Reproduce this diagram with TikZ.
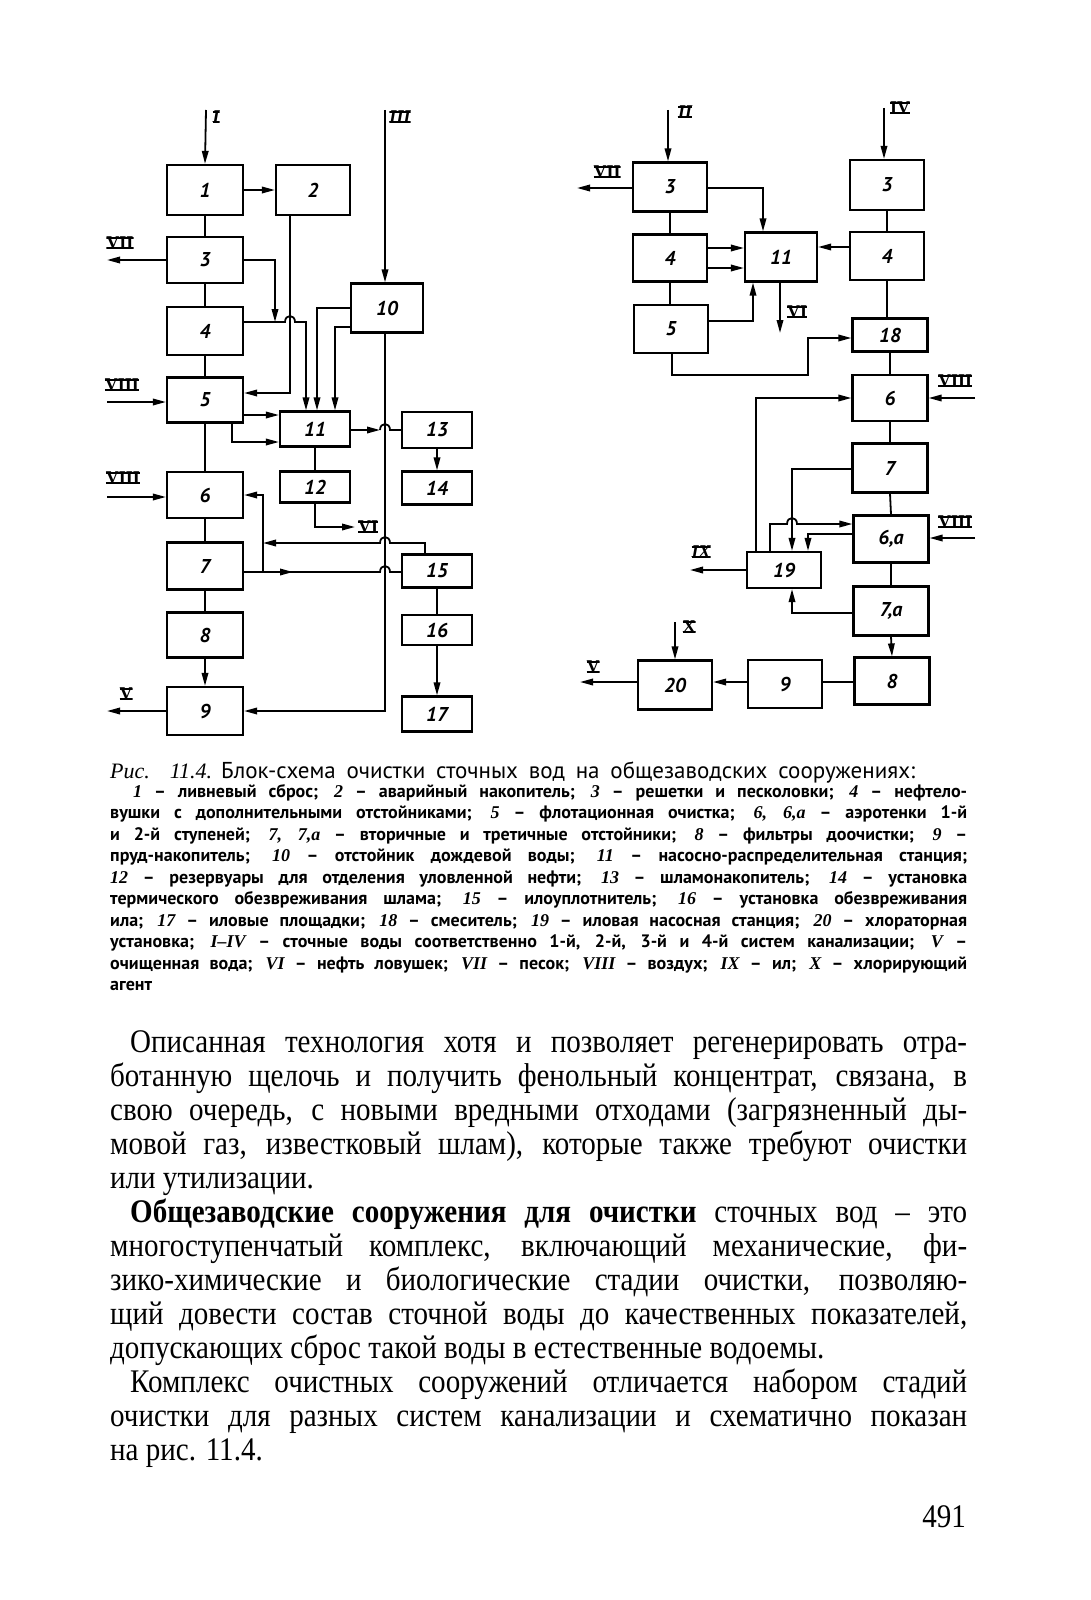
\documentclass[tikz,border=0pt]{standalone}
\usepackage{fontspec}
\usetikzlibrary{arrows.meta,calc}
\setmainfont{Liberation Serif}
\newfontfamily\bodyfont[FakeStretch=0.88]{Liberation Serif}
\newfontfamily\legfont{PT Sans}
\newfontfamily\itser{Liberation Serif}
\newfontfamily\boxfam{PT Sans}
\newfontfamily\romfam{Liberation Serif}
\newcommand\jline[2]{\makebox[#1][s]{#2}}
\newcommand\nn[1]{{\itser\itshape #1}}
\newcommand\legsz{\legfont\bfseries\fontsize{18}{20}\selectfont}
\newcommand\bodysz{\bodyfont\fontsize{33}{34}\selectfont}
\tikzset{
  box/.style={draw, line width=2.2pt, inner sep=0pt, font=\boxfam\bfseries\itshape\fontsize{20}{20}\selectfont},
  ln/.style={line width=1.8pt},
  arr/.style={line width=1.8pt, -{Triangle[length=13pt,width=6.5pt]}},
  bars/.style={path picture={
      \draw[line width=1.6pt] ([yshift=-0.8pt]path picture bounding box.north west) -- ([yshift=-0.8pt]path picture bounding box.north east);
      \draw[line width=1.6pt] ([yshift=0.8pt]path picture bounding box.south west) -- ([yshift=0.8pt]path picture bounding box.south east);}},
  rom/.style={inner sep=0pt, bars, font=\romfam\bfseries\fontsize{18}{18}\selectfont},
  romi/.style={inner sep=0pt, bars, font=\romfam\bfseries\itshape\fontsize{18}{18}\selectfont},
  txt/.style={anchor=base west, inner sep=0pt},
}
\begin{document}
\begin{tikzpicture}[x=1pt,y=-1pt]
\fill[white] (0,0) rectangle (1090,1600);
\useasboundingbox (0,0) rectangle (1090,1600);

% ---------------- left scheme ----------------
\node[box,minimum width=76pt,minimum height=50pt] (L1) at (205,190) {1};
\node[box,minimum width=74pt,minimum height=50pt] (L2) at (313,190) {2};
\node[box,minimum width=76pt,minimum height=46pt] (L3) at (205,260) {3};
\node[box,minimum width=76pt,minimum height=48pt] (L4) at (205,331) {4};
\node[box,minimum width=76pt,minimum height=45pt] (L5) at (205,400) {5};
\node[box,minimum width=76pt,minimum height=46pt] (L6) at (205,495) {6};
\node[box,minimum width=76pt,minimum height=47pt] (L7) at (205,566) {7};
\node[box,minimum width=76pt,minimum height=45pt] (L8) at (205,635) {8};
\node[box,minimum width=76pt,minimum height=48pt] (L9) at (205,711) {9};
\node[box,minimum width=72pt,minimum height=49pt] (L10) at (387,308) {10};
\node[box,minimum width=70pt,minimum height=35pt] (L11) at (315,429) {11};
\node[box,minimum width=70pt,minimum height=31pt] (L12) at (315,487) {12};
\node[box,minimum width=70pt,minimum height=36pt] (L13) at (437,430) {13};
\node[box,minimum width=70pt,minimum height=33pt] (L14) at (437,488) {14};
\node[box,minimum width=70pt,minimum height=33pt] (L15) at (437,571) {15};
\node[box,minimum width=70pt,minimum height=30pt] (L16) at (437,630) {16};
\node[box,minimum width=70pt,minimum height=35pt] (L17) at (437,714) {17};

\coordinate (inI) at (206,110);
\coordinate (outVIIa) at (107,260);
\coordinate (inVIIIa) at (107,402);
\coordinate (inVIIIb) at (107,497);
\coordinate (outVa) at (107,711);
\coordinate (inIII) at (385,110);
\coordinate (outVIa) at (355,527);
\coordinate (j1) at (275,322);
\coordinate (c4) at (306,322);
\coordinate (bA) at (290,322);
\coordinate (c2) at (290,393);
\coordinate (c10a) at (317,308);
\coordinate (c10b) at (335,327);
\coordinate (c9) at (385,711);
\coordinate (c5a) at (0,415);
\coordinate (c5b) at (232,442);
\coordinate (b1) at (385,430);
\coordinate (c15) at (425,543);
\coordinate (b2) at (385,543);
\coordinate (j2) at (263,543);
\coordinate (j3) at (263,572);
\coordinate (m3) at (293,572);
\coordinate (b3) at (385,572);

\draw[arr] (inI) -- (L1.north);
\draw[arr] (L1.east) -- (L2.west);
\draw[ln] (L1.south) -- (L3.north);
\draw[ln] (L3.south) -- (L4.north);
\draw[ln] (L4.south) -- (L5.north);
\draw[ln] (L5.south) -- (L6.north);
\draw[ln] (L6.south) -- (L7.north);
\draw[ln] (L7.south) -- (L8.north);
\draw[arr] (L8.south) -- (L9.north);
\draw[arr] (L3.west) -- (outVIIa);
\draw[arr] (inVIIIa) -- (L5.west |- inVIIIa);
\draw[arr] (inVIIIb) -- (L6.west |- inVIIIb);
\draw[arr] (L9.west) -- (outVa);
\draw[arr] (L3.east) -| (j1);
\draw[arr] (L4.east |- j1) -- ([xshift=-5pt]bA) .. controls ([xshift=-5pt,yshift=8pt]bA) and ([xshift=5pt,yshift=8pt]bA) .. ([xshift=5pt]bA) -- (c4) -- (L11.north -| c4);
\draw[arr] (L2.south -| c2) |- (L5.east |- c2);
\draw[arr] (inIII) -- (L10.north -| inIII);
\draw[arr] (L10.west |- c10a) -| (L11.north -| c10a);
\draw[arr] (L10.west |- c10b) -| (L11.north -| c10b);
\draw[arr] (L10.south -| c9) -- (c9) -- (L9.east |- c9);
\draw[arr] (L5.east |- c5a) -- (L11.west |- c5a);
\draw[arr] (L5.south -| c5b) |- (L11.west |- c5b);
\draw[arr] (L11.east |- b1) -- ([xshift=-5pt]b1);
\draw[ln] ([xshift=-5pt]b1) .. controls ([xshift=-5pt,yshift=8pt]b1) and ([xshift=5pt,yshift=8pt]b1) .. ([xshift=5pt]b1) -- (L13.west |- b1);
\draw[ln] (L11.south) -- (L12.north);
\draw[arr] (L12.south) |- (outVIa);
\draw[arr] (L13.south) -- (L14.north);
\draw[ln] (L15.south) -- (L16.north);
\draw[arr] (L16.south) -- (L17.north);
\draw[arr] (L15.north -| c15) -- (c15) -- ([xshift=5pt]b2) .. controls ([xshift=5pt,yshift=8pt]b2) and ([xshift=-5pt,yshift=8pt]b2) .. ([xshift=-5pt]b2) -- (j2);
\draw[ln] (L7.east |- j3) -- ([xshift=-5pt]b3) .. controls ([xshift=-5pt,yshift=8pt]b3) and ([xshift=5pt,yshift=8pt]b3) .. ([xshift=5pt]b3) -- (L15.west |- b3);
\draw[arr] (L7.east |- j3) -- (m3);
\draw[arr] (j3) |- (L6.east);

\node[romi] (lI) at (216,117) {I};
\node[romi] (lIII) at (400,117) {III};
\node[rom] (lVIIa) at (120,243) {VII};
\node[rom] (lVIIIa) at (122,385) {VIII};
\node[rom] (lVIIIb) at (123,478) {VIII};
\node[rom] (lVa) at (126,694) {V};
\node[rom, anchor=west] (lVIa) at (358,527) {VI};

% ---------------- right scheme ----------------
\node[box,minimum width=74pt,minimum height=49pt] (R3) at (670,187) {3};
\node[box,minimum width=74pt,minimum height=47pt] (R4) at (670,258) {4};
\node[box,minimum width=74pt,minimum height=48pt] (R5) at (671,329) {5};
\node[box,minimum width=72pt,minimum height=49pt] (R11) at (781,257) {11};
\node[box,minimum width=74pt,minimum height=50pt] (R3b) at (887,185) {3};
\node[box,minimum width=74pt,minimum height=48pt] (R4b) at (887,256) {4};
\node[box,minimum width=75pt,minimum height=33pt] (R18) at (890,335) {18};
\node[box,minimum width=75pt,minimum height=46pt] (R6) at (890,398) {6};
\node[box,minimum width=75pt,minimum height=49pt] (R7) at (890,468) {7};
\node[box,minimum width=75pt,minimum height=47pt] (R6a) at (891,539) {6,a};
\node[box,minimum width=75pt,minimum height=49pt] (R7a) at (891,611) {7,a};
\node[box,minimum width=75pt,minimum height=47pt] (R8) at (892,681) {8};
\node[box,minimum width=74pt,minimum height=48pt] (R9) at (785,684) {9};
\node[box,minimum width=74pt,minimum height=49pt] (R20) at (675,685) {20};
\node[box,minimum width=74pt,minimum height=36pt] (R19) at (784,570) {19};

\coordinate (inII) at (668,110);
\coordinate (outVIIb) at (577,188);
\coordinate (c3r) at (763,188);
\coordinate (c4a) at (0,248);
\coordinate (c4b) at (0,268);
\coordinate (c5r) at (753,321);
\coordinate (outVIb) at (780,333);
\coordinate (inIV) at (884,108);
\coordinate (c4r) at (0,247);
\coordinate (c5d) at (672,375);
\coordinate (c5e) at (808,338);
\coordinate (inVIIIc) at (975,398);
\coordinate (inVIIId) at (975,538);
\coordinate (c19a) at (756,398);
\coordinate (c7) at (792,469);
\coordinate (c19b) at (770,524);
\coordinate (b4) at (792,524);
\coordinate (c6a) at (808,534);
\coordinate (c7a) at (792,613);
\coordinate (outIX) at (690,570);
\coordinate (c89) at (0,682);
\coordinate (outVb) at (580,682);
\coordinate (inX) at (675,622);

\draw[arr] (inII) -- (R3.north -| inII);
\draw[arr] (R3.west |- outVIIb) -- (outVIIb);
\draw[arr] (R3.east |- c3r) -| (R11.north -| c3r);
\draw[ln] (R3.south) -- (R4.north);
\draw[ln] (R4.south) -- (R5.north -| R4.south);
\draw[arr] (R4.east |- c4a) -- (R11.west |- c4a);
\draw[arr] (R4.east |- c4b) -- (R11.west |- c4b);
\draw[arr] (R5.east |- c5r) -| (R11.south -| c5r);
\draw[arr] (R11.south -| outVIb) -- (outVIb);
\draw[arr] (inIV) -- (R3b.north -| inIV);
\draw[ln] (R3b.south) -- (R4b.north);
\draw[ln] (R4b.south) -- (R18.north -| R4b.south);
\draw[arr] (R4b.west |- c4r) -- (R11.east |- c4r);
\draw[arr] (R5.south -| c5d) -- (c5d) -| (c5e) -- (R18.west |- c5e);
\draw[ln] (R18.south) -- (R6.north);
\draw[ln] (R6.south) -- (R7.north);
\draw[ln] (R7.south) -- (R6a.north);
\draw[ln] (R6a.south) -- (R7a.north);
\draw[arr] (R7a.south) -- (R8.north);
\draw[arr] (inVIIIc) -- (R6.east |- inVIIIc);
\draw[arr] (inVIIId) -- (R6a.east |- inVIIId);
\draw[arr] (R19.north -| c19a) |- (R6.west);
\draw[arr] (R7.west |- c7) -| (R19.north -| c7);
\draw[arr] (R19.north -| c19b) |- ([xshift=-5pt]b4) .. controls ([xshift=-5pt,yshift=8pt]b4) and ([xshift=5pt,yshift=8pt]b4) .. ([xshift=5pt]b4) -- (R6a.west |- b4);
\draw[arr] (R6a.west |- c6a) -| (R19.north -| c6a);
\draw[arr] (R7a.west |- c7a) -| (R19.south -| c7a);
\draw[arr] (R19.west) -- (outIX);
\draw[ln] (R8.west |- c89) -- (R9.east |- c89);
\draw[arr] (R9.west |- c89) -- (R20.east |- c89);
\draw[arr] (R20.west |- outVb) -- (outVb);
\draw[arr] (inX) -- (R20.north);

\node[romi] (lII) at (685,112) {II};
\node[rom] (lVIIb) at (607,172) {VII};
\node[rom] (lVIb) at (797,312) {VI};
\node[rom] (lIV) at (900,108) {IV};
\node[rom] (lVIIIc) at (955,381) {VIII};
\node[rom] (lVIIId) at (955,522) {VIII};
\node[romi] (lIX) at (701,552) {IX};
\node[rom] (lX) at (689,627) {X};
\node[rom] (lVb) at (593,667) {V};

% ---------------- caption ----------------
\node[txt] (cap) at (110,778) {\jline{805pt}{{\itser\itshape\fontsize{22}{22}\selectfont Рис. 11.4.} {\legfont\fontsize{23}{23}\selectfont Блок-схема очистки сточных вод на общезаводских сооружениях:}}};
\node[txt] (g1) at (133,797) {\legsz\jline{834pt}{\nn{1} – ливневый сброс; \nn{2} – аварийный накопитель; \nn{3} – решетки и песколовки; \nn{4} – нефтело-}};
\node[txt] (g2) at (110,818.5) {\legsz\jline{857pt}{вушки с дополнительными отстойниками; \nn{5} – флотационная очистка; \nn{6, 6,а} – аэротенки 1-й}};
\node[txt] (g3) at (110,840) {\legsz\jline{857pt}{и 2-й ступеней; \nn{7, 7,а} – вторичные и третичные отстойники; \nn{8} – фильтры доочистки; \nn{9} –}};
\node[txt] (g4) at (110,861.5) {\legsz\jline{857pt}{пруд-накопитель; \nn{10} – отстойник дождевой воды; \nn{11} – насосно-распределительная станция;}};
\node[txt] (g5) at (110,883) {\legsz\jline{857pt}{\nn{12} – резервуары для отделения уловленной нефти; \nn{13} – шламонакопитель; \nn{14} – установка}};
\node[txt] (g6) at (110,904.5) {\legsz\jline{857pt}{термического обезвреживания шлама; \nn{15} – илоуплотнитель; \nn{16} – установка обезвреживания}};
\node[txt] (g7) at (110,926) {\legsz\jline{857pt}{ила; \nn{17} – иловые площадки; \nn{18} – смеситель; \nn{19} – иловая насосная станция; \nn{20} – хлораторная}};
\node[txt] (g8) at (110,947.5) {\legsz\jline{857pt}{установка; \nn{I–IV} – сточные воды соответственно 1-й, 2-й, 3-й и 4-й систем канализации; \nn{V} –}};
\node[txt] (g9) at (110,969) {\legsz\jline{857pt}{очищенная вода; \nn{VI} – нефть ловушек; \nn{VII} – песок; \nn{VIII} – воздух; \nn{IX} – ил; \nn{X} – хлорирующий}};
\node[txt] (g10) at (110,990.5) {\legsz агент};

% ---------------- body text ----------------
\node[txt] (t1) at (130,1052) {\bodysz\jline{837pt}{Описанная технология хотя и позволяет регенерировать отра-}};
\node[txt] (t2) at (110,1086) {\bodysz\jline{857pt}{ботанную щелочь и получить фенольный концентрат, связана, в}};
\node[txt] (t3) at (110,1120) {\bodysz\jline{857pt}{свою очередь, с новыми вредными отходами (загрязненный ды-}};
\node[txt] (t4) at (110,1154) {\bodysz\jline{857pt}{мовой газ, известковый шлам), которые также требуют очистки}};
\node[txt] (t5) at (110,1188) {\bodysz или утилизации.};
\node[txt] (t6) at (130,1222) {\bodysz\jline{837pt}{{\bfseries Общезаводские сооружения для очистки} сточных вод – это}};
\node[txt] (t7) at (110,1256) {\bodysz\jline{857pt}{многоступенчатый комплекс, включающий механические, фи-}};
\node[txt] (t8) at (110,1290) {\bodysz\jline{857pt}{зико-химические и биологические стадии очистки, позволяю-}};
\node[txt] (t9) at (110,1324) {\bodysz\jline{857pt}{щий довести состав сточной воды до качественных показателей,}};
\node[txt] (t10) at (110,1358) {\bodysz допускающих сброс такой воды в естественные водоемы.};
\node[txt] (t11) at (130,1392) {\bodysz\jline{837pt}{Комплекс очистных сооружений отличается набором стадий}};
\node[txt] (t12) at (110,1426) {\bodysz\jline{857pt}{очистки для разных систем канализации и схематично показан}};
\node[txt] (t13) at (110,1460) {\bodysz на рис. 11.4.};
\node[anchor=base east, inner sep=0pt] (pg) at (966,1527) {\bodysz 491};
\end{tikzpicture}
\end{document}
